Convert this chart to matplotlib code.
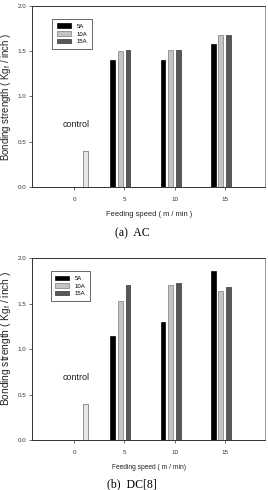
import numpy as np
import matplotlib
matplotlib.use('Agg')
import matplotlib.pyplot as plt

plt.rcParams['font.family'] = 'Liberation Sans'
plt.rcParams['mathtext.fontset'] = 'custom'
plt.rcParams['mathtext.rm'] = 'Liberation Sans'

# data
speeds = [5, 10, 15]
series_names = ['5A', '10A', '15A']
ac_values = {
    '5A': [1.40, 1.40, 1.58],
    '10A': [1.50, 1.51, 1.68],
    '15A': [1.51, 1.51, 1.68],
}
dc_values = {
    '5A': [1.15, 1.30, 1.86],
    '10A': [1.53, 1.71, 1.64],
    '15A': [1.71, 1.73, 1.68],
}
control_x = 1.13
control_value = 0.40
x_ticks = [0, 5, 10, 15]
y_ticks = [0.0, 0.5, 1.0, 1.5, 2.0]

# styling
face_colors = ['#000000', '#c4c4c4', '#575757']
edge_colors = ['#000000', '#7a7a7a', '#333333']
offsets = [-1.15, -0.40, 0.36]
bar_width = 0.47


def draw_panel(ax, values, xlabel_size, xlabel_x, ylabel_size, ylabel_y, leg_anchor):
    for i, name in enumerate(series_names):
        xs = np.array(speeds) + offsets[i]
        ax.bar(xs, values[name], width=bar_width, color=face_colors[i],
               edgecolor=edge_colors[i], linewidth=0.5, label=name, zorder=3)
    # control bar
    ax.bar([control_x], [control_value], width=bar_width, color='#e6e6e6',
           edgecolor='#6a6a6a', linewidth=0.5, zorder=3)
    ax.text(0.2, 0.685, 'control', ha='center', va='center', fontsize=6.5,
            color='#222222')

    ax.set_xlim(-4.15, 19.0)
    ax.set_ylim(0, 2.0)
    ax.set_xticks(x_ticks)
    ax.set_xticklabels([str(t) for t in x_ticks])
    ax.set_yticks(y_ticks)
    ax.set_yticklabels([f'{t:.1f}' for t in y_ticks])
    ax.tick_params(axis='both', labelsize=4.5, colors='#333333',
                   length=2, width=0.5, pad=2.5, direction='out')
    ax.tick_params(axis='x', pad=5)
    for side in ['left', 'bottom', 'top']:
        ax.spines[side].set_color('#333333')
        ax.spines[side].set_linewidth(0.7)
    ax.spines['right'].set_color('#888888')
    ax.spines['right'].set_linewidth(0.6)

    ax.set_xlabel('Feeding speed ( m / min )', fontsize=xlabel_size,
                  color='#222222', labelpad=7)
    ax.xaxis.label.set_x(xlabel_x)
    ax.set_ylabel(r'Bonding strength ( Kg$_\mathregular{f}$ / inch )',
                  fontsize=ylabel_size, color='#222222', labelpad=3)
    ax.yaxis.label.set_y(ylabel_y)

    leg = ax.legend(loc='upper left', bbox_to_anchor=leg_anchor,
                    fontsize=4.3, frameon=True, fancybox=False,
                    edgecolor='#222222', handlelength=2.4, handleheight=0.75,
                    handletextpad=0.9, labelspacing=0.42, borderpad=0.75,
                    borderaxespad=0)
    leg.get_frame().set_linewidth(0.6)


fig = plt.figure(figsize=(2.68, 4.90), dpi=100)
ax_top = fig.add_axes([0.1205, 0.6184, 0.8685, 0.3694])
ax_bot = fig.add_axes([0.1205, 0.1020, 0.8685, 0.3708])

draw_panel(ax_top, ac_values, 5.4, 0.50, 6.9, 0.50, (0.086, 0.928))
draw_panel(ax_bot, dc_values, 4.8, 0.465, 7.3, 0.56, (0.079, 0.93))
ax_bot.set_xlabel('Feeding speed ( m / min)')

fig.text(0.495, 1 - 233.5 / 490, '(a)  AC', ha='center', va='center',
         fontsize=8.5, family='Liberation Serif')
fig.text(0.493, 1 - 484 / 490, '(b)  DC[8]', ha='center', va='center',
         fontsize=8.5, family='Liberation Serif')

fig.savefig('out.png', dpi=100)
